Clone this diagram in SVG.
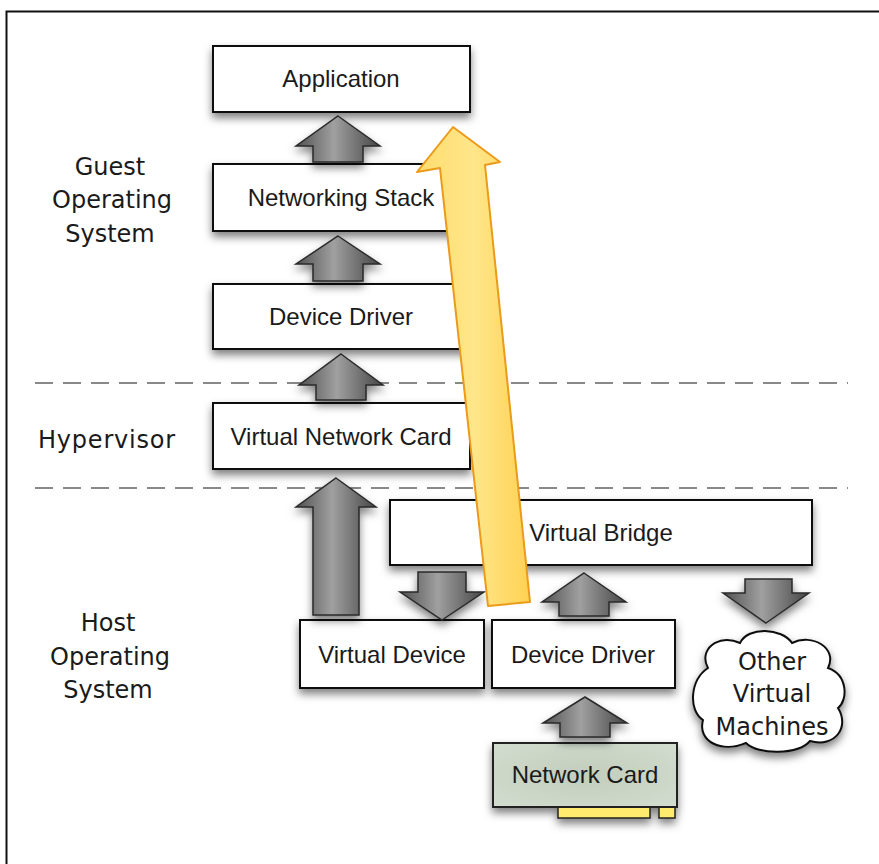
<svg xmlns="http://www.w3.org/2000/svg" width="879" height="864" viewBox="0 0 879 864">
<defs>
<filter id="sh" x="-20%" y="-20%" width="140%" height="160%">
<feDropShadow dx="0" dy="5" stdDeviation="4" flood-color="#000" flood-opacity="0.5"/>
</filter>
<linearGradient id="g" x1="0" y1="0" x2="1" y2="0">
<stop offset="0" stop-color="#505050"/>
<stop offset="0.45" stop-color="#a0a0a0"/>
<stop offset="1" stop-color="#454545"/>
</linearGradient>
<linearGradient id="y" x1="0" y1="0" x2="1" y2="0">
<stop offset="0" stop-color="#ffdc6e"/>
<stop offset="0.5" stop-color="#ffe68a"/>
<stop offset="1" stop-color="#ffd152"/>
</linearGradient>
<radialGradient id="nc" cx="0.5" cy="0.5" r="0.7">
<stop offset="0" stop-color="#c2cdbd"/>
<stop offset="1" stop-color="#d2ddcf"/>
</radialGradient>
</defs>
<style>
.box{fill:#fff;stroke:#111;stroke-width:2;filter:url(#sh)}
.t{font-family:"Liberation Sans",Arial,sans-serif;font-size:24px;fill:#1a1a1a;text-anchor:middle}
.l{font-family:"DejaVu Sans",sans-serif;font-size:24px;fill:#1a1a1a;text-anchor:middle}
.ar{fill:url(#g);stroke:#2a2a2a;stroke-width:1.5;filter:url(#sh)}
.dash{stroke:#888;stroke-width:2;stroke-dasharray:18 10;fill:none}
</style>
<rect width="879" height="864" fill="#fff"/>
<path d="M6.5,870 V11.5 H880" fill="none" stroke="#111" stroke-width="2"/>

<g id="labels">
<text class="l" x="110" y="175">Guest</text>
<text class="l" x="112" y="208">Operating</text>
<text class="l" x="110" y="242">System</text>
<text class="l" x="107" y="448" letter-spacing="0.8">Hypervisor</text>
<text class="l" x="108" y="631">Host</text>
<text class="l" x="110" y="665">Operating</text>
<text class="l" x="108" y="698">System</text>
</g>

<g id="separators">
<line class="dash" x1="35" y1="383" x2="848" y2="383"/>
<line class="dash" x1="35" y1="488" x2="848" y2="488"/>
</g>

<g id="app"><rect class="box" x="213" y="46" width="257" height="66"/><text class="t" x="341" y="87">Application</text></g>
<g id="netstack"><rect class="box" x="213" y="164" width="257" height="67"/><text class="t" x="341" y="206">Networking Stack</text></g>
<g id="guestdriver"><rect class="box" x="213" y="284" width="257" height="65"/><text class="t" x="341" y="325">Device Driver</text></g>
<g id="vnc"><rect class="box" x="213" y="403" width="257" height="66"/><text class="t" x="341" y="445">Virtual Network Card</text></g>
<g id="bridge"><rect class="box" x="390" y="500" width="422" height="65"/><text class="t" x="601" y="541">Virtual Bridge</text></g>
<g id="vdevice"><rect class="box" x="300" y="620" width="184" height="68"/><text class="t" x="392" y="663">Virtual Device</text></g>
<g id="hostdriver"><rect class="box" x="492" y="620" width="183" height="68"/><text class="t" x="583" y="663">Device Driver</text></g>
<g id="netcard">
<g filter="url(#sh)">
<rect x="558" y="807" width="92" height="11" fill="#ffec6e" stroke="#222" stroke-width="1.5"/>
<rect x="659" y="807" width="16" height="11" fill="#ffec6e" stroke="#222" stroke-width="1.5"/>
<rect x="493" y="743" width="184" height="64" fill="url(#nc)" stroke="#222" stroke-width="2"/>
</g>
<text class="t" x="585" y="783">Network Card</text>
</g>
<g id="others">
<path d="M708,668 C698,650 718,633 740,643 C748,626 782,628 792,643 C812,633 838,648 828,668 C848,675 848,700 838,708 C850,727 835,748 810,741 C798,755 758,755 746,743 C722,753 697,742 703,720 C688,710 690,680 708,668 Z" fill="#fff" stroke="#111" stroke-width="2" filter="url(#sh)"/>
<text class="l" x="772" y="670">Other</text>
<text class="l" x="772" y="702">Virtual</text>
<text class="l" x="772" y="735">Machines</text>
</g>

<g id="connectors">
<path class="ar" d="M338,116 L380,146 L363,146 L363,162 L313,162 L313,146 L296,146 Z"/>
<path class="ar" d="M338,236 L380,264 L363,264 L363,281 L313,281 L313,264 L296,264 Z"/>
<path class="ar" d="M341,354 L383,385 L366,385 L366,400 L316,400 L316,385 L299,385 Z"/>
<path class="ar" d="M336,478 L376,507 L359,507 L359,615 L313,615 L313,507 L296,507 Z"/>
<path class="ar" d="M442,620 L484,592 L466,592 L466,572 L418,572 L418,592 L400,592 Z"/>
<path class="ar" d="M584,573 L626,602 L609,602 L609,616 L559,616 L559,602 L542,602 Z"/>
<path class="ar" d="M766,623 L809,593 L792,593 L792,579 L745,579 L745,593 L723,593 Z"/>
<path class="ar" d="M585,697 L627,723 L610,723 L610,737 L560,737 L560,723 L543,723 Z"/>
<path d="M488,606 L530,602 L485,165 L500,162 L453,127 L417,172 L440,168 Z" fill="url(#y)" stroke="#eb9a1a" stroke-width="2" stroke-linejoin="round"/>
</g>
</svg>
